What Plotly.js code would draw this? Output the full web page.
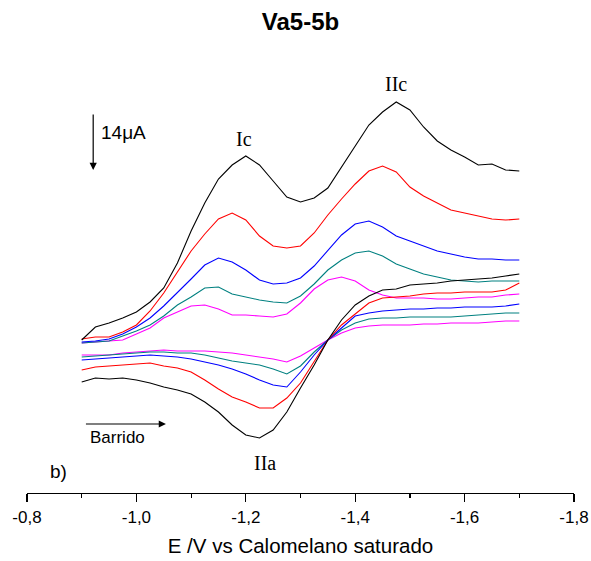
<!DOCTYPE html>
<html>
<head>
<meta charset="utf-8">
<script src="https://cdn.plot.ly/plotly-3.0.1.min.js"></script>
<style>html,body{margin:0;padding:0;background:#fff;}#chart{width:591px;height:561px;}</style>
</head>
<body>
<div id="chart"></div>
<script>
// Potential (V vs SCE), sampled every 25 mV
const potential = [-0.900,-0.925,-0.950,-0.975,-1.000,-1.025,-1.050,-1.075,-1.100,-1.125,-1.150,-1.175,-1.200,-1.225,-1.250,-1.275,-1.300,-1.325,-1.350,-1.375,-1.400,-1.425,-1.450,-1.475,-1.500,-1.525,-1.550,-1.575,-1.600,-1.625,-1.650,-1.675,-1.700];

// Current (graph units, larger = more anodic / lower on page)
const blackFwd   = [340,327,323,318,312,302,288,263,231,203,179,165,156,165,181,197,202,198,188,167,145,125,112,102,110,127,141,150,157,165,164,170,171];
const blackRev   = [382,378,379,378,380,383,387,390,394,402,412,425,435,438,430,412,388,365,340,320,305,296,290,289,285,284,283,281,280,279,278,276,274];
const redFwd     = [339,337,337,332,325,311,293,272,251,234,219,213,220,236,246,248,246,233,215,199,184,171,166,172,187,196,203,210,213,216,219,220,219];
const redRev     = [370,367,366,365,364,363,366,368,372,380,389,397,402,408,408,398,383,362,340,325,314,303,298,297,296,294,293,293,292,292,292,290,283];
const blueFwd    = [342,341,339,334,327,318,306,293,279,265,258,262,270,280,284,283,278,266,250,235,224,221,227,236,241,246,251,254,257,259,259,260,260];
const blueRev    = [360,359,358,357,356,355,356,357,359,362,365,369,374,380,385,387,372,355,340,328,316,313,311,310,309,309,308,308,307,307,307,306,304];
const tealFwd    = [343,342,341,336,331,325,316,305,297,288,287,294,297,300,302,303,296,284,270,260,253,251,256,264,269,274,277,280,281,282,281,281,281];
const tealRev    = [357,356,355,354,353,352,352,353,353,355,358,361,363,365,369,374,366,352,340,330,323,319,318,318,317,317,317,317,316,315,314,313,313];
const magentaFwd = [343,342,341,340,334,328,318,312,306,305,309,315,315,316,317,314,303,289,280,277,281,290,295,298,298,298,299,299,298,297,297,295,294];
const magentaRev = [355,355,355,353,352,351,350,351,351,351,352,353,355,357,359,362,356,348,340,333,328,326,325,325,325,324,324,323,323,323,322,321,321];

const tickVals   = [-0.8,-1.0,-1.2,-1.4,-1.6,-1.8];
const tickLabels = ["-0,8","-1,0","-1,2","-1,4","-1,6","-1,8"];
const minorVals  = [-0.9,-1.1,-1.3,-1.5,-1.7];

const series = [
  {name:"black",   color:"#000000", fwd:blackFwd,   rev:blackRev},
  {name:"red",     color:"#ff0000", fwd:redFwd,     rev:redRev},
  {name:"blue",    color:"#0000ff", fwd:blueFwd,    rev:blueRev},
  {name:"teal",    color:"#008080", fwd:tealFwd,    rev:tealRev},
  {name:"magenta", color:"#ff00ff", fwd:magentaFwd, rev:magentaRev}
];

const traces = series.slice().reverse().map(s => ({
  type:"scatter", mode:"lines", name:s.name,
  x: potential.concat([null], potential),
  y: s.fwd.concat([null], s.rev),
  connectgaps:false,
  line:{color:s.color, width:1.1},
  hoverinfo:"skip"
}));

const sans = "Liberation Sans, Arial, sans-serif";
const serif = "Liberation Serif, Times New Roman, serif";

const layout = {
  width:591, height:561,
  margin:{l:27, r:17, t:60, b:68, pad:0},
  paper_bgcolor:"#fff", plot_bgcolor:"#fff",
  showlegend:false,
  title:{text:"<b>Va5-5b</b>", font:{family:sans, size:24, color:"#000"}, x:0.5, xref:"paper", y:0.962, yanchor:"middle"},
  xaxis:{
    range:[-0.8,-1.8], showgrid:false, zeroline:false,
    showline:true, linecolor:"#000", linewidth:1.2,
    ticks:"outside", ticklen:8, tickwidth:1.2, tickcolor:"#000",
    tickmode:"array", tickvals:tickVals, ticktext:tickLabels,
    tickfont:{family:sans, size:17, color:"#000"},
    minor:{tickmode:"array", tickvals:minorVals, ticks:"outside", ticklen:4, tickwidth:1.2, tickcolor:"#000", showgrid:false},
    title:{text:"E /V vs Calomelano saturado", font:{family:sans, size:20.5, color:"#000"}, standoff:13}
  },
  yaxis:{range:[493,60], visible:false, showgrid:false, zeroline:false},
  annotations:[
    {x:-0.921, y:170, ax:-0.921, ay:113, xref:"x", yref:"y", axref:"x", ayref:"y", showarrow:true, arrowhead:2, arrowsize:1.2, arrowwidth:1.2, arrowcolor:"#000", text:""},
    {x:-0.932, y:132, xref:"x", yref:"y", xanchor:"left", yanchor:"middle", showarrow:false, text:"14μA", font:{family:sans, size:19, color:"#000"}},
    {x:-1.197, y:139, xref:"x", yref:"y", showarrow:false, text:"Ic", font:{family:serif, size:20, color:"#000"}},
    {x:-1.475, y:84, xref:"x", yref:"y", showarrow:false, text:"IIc", font:{family:serif, size:20, color:"#000"}},
    {x:-1.236, y:463, xref:"x", yref:"y", showarrow:false, text:"IIa", font:{family:serif, size:20, color:"#000"}},
    {x:-0.857, y:471, xref:"x", yref:"y", showarrow:false, text:"b)", font:{family:sans, size:19, color:"#000"}},
    {x:-1.054, y:424, ax:-0.905, ay:424, xref:"x", yref:"y", axref:"x", ayref:"y", showarrow:true, arrowhead:2, arrowsize:1.2, arrowwidth:1.2, arrowcolor:"#000", text:""},
    {x:-0.966, y:437, xref:"x", yref:"y", showarrow:false, text:"Barrido", font:{family:sans, size:17, color:"#000"}}
  ]
};

Plotly.newPlot("chart", traces, layout, {staticPlot:true, displayModeBar:false});
</script>
</body>
</html>
